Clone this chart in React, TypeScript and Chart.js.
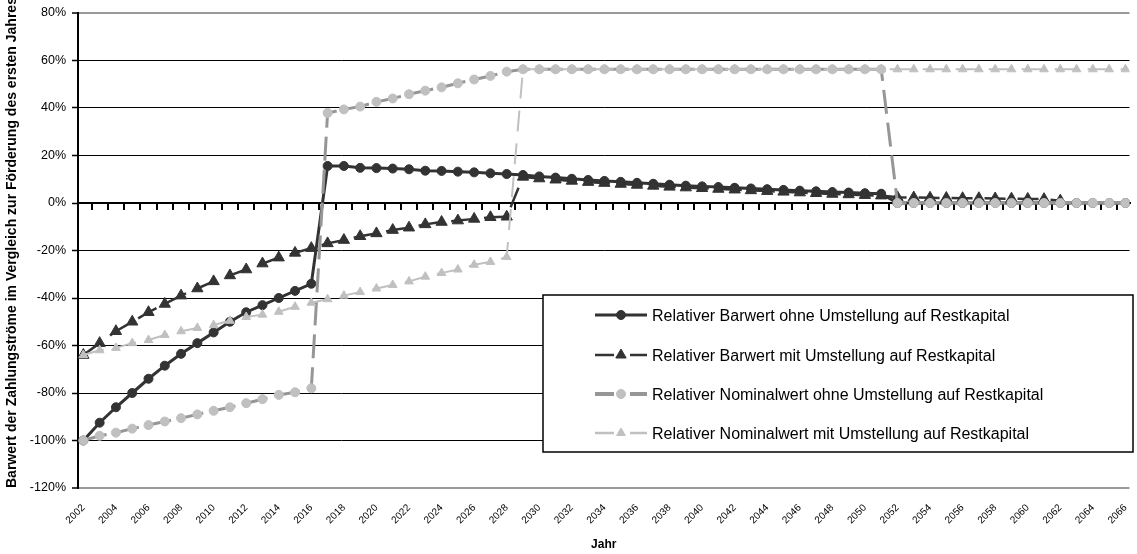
import React, { useEffect, useRef } from 'react';
import { Chart, registerables } from 'chart.js';

Chart.register(...registerables);

const years = [
  2002, 2003, 2004, 2005, 2006, 2007, 2008, 2009, 2010, 2011, 2012, 2013, 2014, 2015, 2016,
  2017, 2018, 2019, 2020, 2021, 2022, 2023, 2024, 2025, 2026, 2027, 2028, 2029, 2030, 2031,
  2032, 2033, 2034, 2035, 2036, 2037, 2038, 2039, 2040, 2041, 2042, 2043, 2044, 2045, 2046,
  2047, 2048, 2049, 2050, 2051, 2052, 2053, 2054, 2055, 2056, 2057, 2058, 2059, 2060, 2061,
  2062, 2063, 2064, 2065, 2066,
];

const xTickLabels = [
  2002, 2004, 2006, 2008, 2010, 2012, 2014, 2016, 2018, 2020, 2022, 2024, 2026, 2028, 2030,
  2032, 2034, 2036, 2038, 2040, 2042, 2044, 2046, 2048, 2050, 2052, 2054, 2056, 2058, 2060,
  2062, 2064, 2066,
];

const yTicks = [-120, -100, -80, -60, -40, -20, 0, 20, 40, 60, 80];

const seriesNames = [
  'Relativer Barwert ohne Umstellung auf Restkapital',
  'Relativer Barwert mit Umstellung auf Restkapital',
  'Relativer Nominalwert ohne Umstellung auf Restkapital',
  'Relativer Nominalwert mit Umstellung auf Restkapital',
];

const barwertOhne: (number | null)[] = [
  -100, -92.5, -86, -80, -74, -68.5, -63.5, -59, -54.5, -50, -46, -43, -40, -37, -34,
  15.6, 15.6, 14.8, 14.7, 14.5, 14.2, 13.6, 13.5, 13.2, 12.9, 12.5, 12.2,
  11.8, 11.2, 10.7, 10.2, 9.7, 9.3, 8.9, 8.5, 8.1, 7.7, 7.3, 7.0, 6.7, 6.4, 6.1, 5.8, 5.5,
  5.2, 4.9, 4.6, 4.4, 4.1, 3.9,
  0, 0, 0, 0, 0, 0, 0, 0, 0, 0, 0, 0, 0, 0, 0,
];

const barwertMit: (number | null)[] = [
  -64, -59, -54, -50, -46, -42.5, -39, -36, -33, -30.5, -28, -25.5, -23, -21, -19, -17,
  -15.6, -14, -12.8, -11.4, -10.4, -9, -8, -7.4, -6.7, -6, -5.8,
  11.0, 10.3, 9.8, 9.3, 8.8, 8.4, 8.0, 7.6, 7.2, 6.8, 6.5, 6.2, 5.9, 5.6, 5.3, 5.0, 4.7,
  4.4, 4.1, 3.8, 3.6, 3.3, 3.1,
  2.4, 2.3, 2.2, 2.1, 2.0, 2.0, 1.9, 1.8, 1.7, 1.6, 1.0,
  null, null, null, null,
];

const nominalOhne: (number | null)[] = [
  -100, -98, -96.7, -95, -93.5, -92, -90.6, -89, -87.5, -86, -84.3, -82.6, -80.8, -79.7, -78,
  37.9, 39.4, 40.6, 42.6, 44, 45.8, 47.3, 48.7, 50.4, 52, 53.5, 55.3, 56.3,
  56.3, 56.3, 56.3, 56.3, 56.3, 56.3, 56.3, 56.3, 56.3, 56.3, 56.3, 56.3, 56.3, 56.3, 56.3,
  56.3, 56.3, 56.3, 56.3, 56.3, 56.3, 56.3,
  0, 0, 0, 0, 0, 0, 0, 0, 0, 0, 0, 0, 0, 0, 0,
];

const nominalMit: (number | null)[] = [
  -64, -62, -61, -59, -57.7, -55.6, -54, -52.6, -51.4, -49.6, -48, -47, -45.8, -43.7, -42,
  -40.5, -39, -37.5, -36, -34.5, -33, -31, -29.5, -28, -26, -24.8, -22.7,
  56.3, 56.3, 56.3, 56.3, 56.3, 56.3, 56.3, 56.3, 56.3, 56.3, 56.3, 56.3, 56.3, 56.3, 56.3,
  56.3, 56.3, 56.3, 56.3, 56.3, 56.3, 56.3, 56.3, 56.3, 56.3, 56.3, 56.3, 56.3, 56.3, 56.3,
  56.3, 56.3, 56.3, 56.3, 56.3, 56.3, 56.3, 56.3,
];

const yTitle = 'Barwert der Zahlungströme im Vergleich zur Förderung des ersten Jahres';
const xTitle = 'Jahr';

const FONT = '"Liberation Sans", Arial, sans-serif';
const DARK = '#333333';
const MID = '#969696';
const LIGHT = '#c0c0c0';

const X_MIN = 2001.67;
const X_MAX = 2066.25;

function toPoints(vals: (number | null)[]) {
  return vals.map((v, i) => ({ x: years[i], y: v }));
}

function drawMarker(ctx: CanvasRenderingContext2D, style: string, x: number, y: number, r: number, color: string) {
  ctx.save();
  ctx.fillStyle = color;
  ctx.strokeStyle = color;
  ctx.lineWidth = 1;
  ctx.setLineDash([]);
  ctx.beginPath();
  if (style === 'circle') {
    ctx.arc(x, y, r, 0, Math.PI * 2);
  } else {
    for (let k = 0; k < 3; k++) {
      const a = -Math.PI / 2 + (k * 2 * Math.PI) / 3;
      const px = x + Math.cos(a) * r;
      const py = y + Math.sin(a) * r;
      if (k === 0) ctx.moveTo(px, py);
      else ctx.lineTo(px, py);
    }
    ctx.closePath();
  }
  ctx.fill();
  ctx.stroke();
  ctx.restore();
}

const legendItems = [
  { line: DARK, width: 3, dashed: false, marker: 'circle', mColor: DARK, r: 4.5 },
  { line: DARK, width: 2.5, dashed: true, marker: 'triangle', mColor: DARK, r: 6 },
  { line: MID, width: 4, dashed: true, marker: 'circle', mColor: LIGHT, r: 4.5 },
  { line: LIGHT, width: 2.5, dashed: true, marker: 'triangle', mColor: LIGHT, r: 5 },
];

const overlayPlugin = {
  id: 'overlay',
  afterDraw(chart: any) {
    const ctx: CanvasRenderingContext2D = chart.ctx;
    ctx.save();
    ctx.translate(12, 488);
    ctx.rotate(-Math.PI / 2);
    ctx.font = `bold 14px ${FONT}`;
    ctx.fillStyle = '#000';
    ctx.textAlign = 'left';
    ctx.textBaseline = 'middle';
    ctx.fillText(yTitle, 0, 0);
    ctx.restore();

    const bx = 543, by = 295, bw = 590, bh = 157;
    ctx.save();
    ctx.fillStyle = '#fff';
    ctx.fillRect(bx, by, bw, bh);
    ctx.strokeStyle = '#000';
    ctx.lineWidth = 1.5;
    ctx.strokeRect(bx, by, bw, bh);
    const rows = [315, 355, 394, 433];
    legendItems.forEach((it, i) => {
      const y = rows[i];
      ctx.save();
      ctx.strokeStyle = it.line;
      ctx.lineWidth = it.width;
      ctx.lineCap = 'butt';
      ctx.beginPath();
      if (it.dashed) {
        ctx.moveTo(595, y);
        ctx.lineTo(614, y);
        ctx.moveTo(630, y);
        ctx.lineTo(647, y);
      } else {
        ctx.moveTo(595, y);
        ctx.lineTo(647, y);
      }
      ctx.stroke();
      ctx.restore();
      drawMarker(ctx, it.marker, 621, y, it.r, it.mColor);
      ctx.font = `16px ${FONT}`;
      ctx.fillStyle = '#000';
      ctx.textAlign = 'left';
      ctx.textBaseline = 'middle';
      ctx.fillText(seriesNames[i], 652, y + 2);
    });
    ctx.restore();
  },
};

export default function App() {
  const canvasRef = useRef<HTMLCanvasElement | null>(null);

  useEffect(() => {
    if (!canvasRef.current) return;
    Chart.defaults.font.family = FONT;
    const chart = new Chart(canvasRef.current, {
      type: 'line',
      data: {
        datasets: [
          {
            label: seriesNames[0],
            data: toPoints(barwertOhne),
            borderColor: DARK,
            backgroundColor: DARK,
            borderWidth: 3,
            pointStyle: 'circle',
            pointRadius: 4.5,
            pointBorderWidth: 1,
            pointBackgroundColor: DARK,
            pointBorderColor: DARK,
            order: 3,
          },
          {
            label: seriesNames[1],
            data: toPoints(barwertMit),
            borderColor: DARK,
            backgroundColor: DARK,
            borderWidth: 2.5,
            borderDash: [21, 12],
            pointStyle: 'triangle',
            pointRadius: 6.5,
            pointBorderWidth: 1,
            pointBackgroundColor: DARK,
            pointBorderColor: DARK,
            order: 2,
          },
          {
            label: seriesNames[2],
            data: toPoints(nominalOhne),
            borderColor: MID,
            backgroundColor: LIGHT,
            borderWidth: 3,
            borderDash: [24, 9],
            pointStyle: 'circle',
            pointRadius: 4.5,
            pointBorderWidth: 1,
            pointBackgroundColor: LIGHT,
            pointBorderColor: LIGHT,
            order: 1,
          },
          {
            label: seriesNames[3],
            data: toPoints(nominalMit),
            borderColor: LIGHT,
            backgroundColor: LIGHT,
            borderWidth: 2,
            borderDash: [21, 12],
            pointStyle: 'triangle',
            pointRadius: 5,
            pointBorderWidth: 1,
            pointBackgroundColor: LIGHT,
            pointBorderColor: LIGHT,
            order: 0,
          },
        ],
      },
      options: {
        responsive: false,
        animation: false,
        events: [],
        layout: { padding: { top: 13, left: 0, right: 0, bottom: 0 } },
        plugins: {
          legend: { display: false },
          tooltip: { enabled: false },
          title: { display: false },
        },
        elements: { line: { tension: 0 } },
        scales: {
          x: {
            type: 'linear',
            position: 'bottom',
            min: X_MIN,
            max: X_MAX,
            grid: { display: false, drawTicks: false },
            border: { display: false },
            afterBuildTicks: (scale: any) => {
              scale.ticks = xTickLabels.map((v) => ({ value: v }));
            },
            afterFit: (scale: any) => {
              scale.height = 66;
              scale.paddingLeft = 0;
              scale.paddingRight = 0;
            },
            ticks: {
              autoSkip: false,
              maxRotation: 45,
              minRotation: 45,
              padding: 14,
              color: '#000',
              font: { size: 10, family: FONT },
              callback: (v: any) => String(v),
            },
            title: {
              display: true,
              text: xTitle,
              color: '#000',
              font: { size: 12, weight: 'bold', family: FONT },
              padding: { top: 0, bottom: 2 },
            },
          },
          x2: {
            type: 'linear',
            axis: 'x',
            position: { y: 0 },
            min: X_MIN,
            max: X_MAX,
            afterBuildTicks: (scale: any) => {
              scale.ticks = years.slice(0, -1).map((v) => ({ value: v + 0.5 }));
            },
            afterFit: (scale: any) => {
              scale.paddingLeft = 0;
              scale.paddingRight = 0;
            },
            grid: {
              display: true,
              drawOnChartArea: false,
              drawTicks: true,
              tickLength: 6,
              color: '#000',
              lineWidth: 2,
            },
            border: { display: true, color: '#000', width: 2 },
            ticks: { display: false, autoSkip: false },
          },
          y: {
            type: 'linear',
            position: 'left',
            min: -120,
            max: 80,
            afterBuildTicks: (scale: any) => {
              scale.ticks = yTicks.map((v) => ({ value: v }));
            },
            afterFit: (scale: any) => {
              scale.width = 78;
              scale.paddingTop = 0;
              scale.paddingBottom = 0;
            },
            grid: {
              drawTicks: true,
              tickLength: 6,
              tickColor: '#000',
              tickWidth: 1.5,
              color: (c: any) =>
                c.tick && (c.tick.value === 80 || c.tick.value === -120) ? '#999999' : '#000000',
              lineWidth: (c: any) =>
                c.tick && (c.tick.value === 80 || c.tick.value === -120) ? 2 : 1,
            },
            border: { display: true, color: '#000', width: 2 },
            ticks: {
              padding: 6,
              color: '#000',
              font: { size: 12.5, family: FONT },
              callback: (v: any) => `${v}%`,
            },
          },
        },
      },
      plugins: [overlayPlugin],
    } as any);
    return () => chart.destroy();
  }, []);

  return (
    <div style={{ position: 'fixed', left: 0, top: 0, width: 1137, height: 554, overflow: 'hidden', background: '#fff' }}>
      <canvas ref={canvasRef} width={1137} height={554} style={{ display: 'block' }} />
    </div>
  );
}
